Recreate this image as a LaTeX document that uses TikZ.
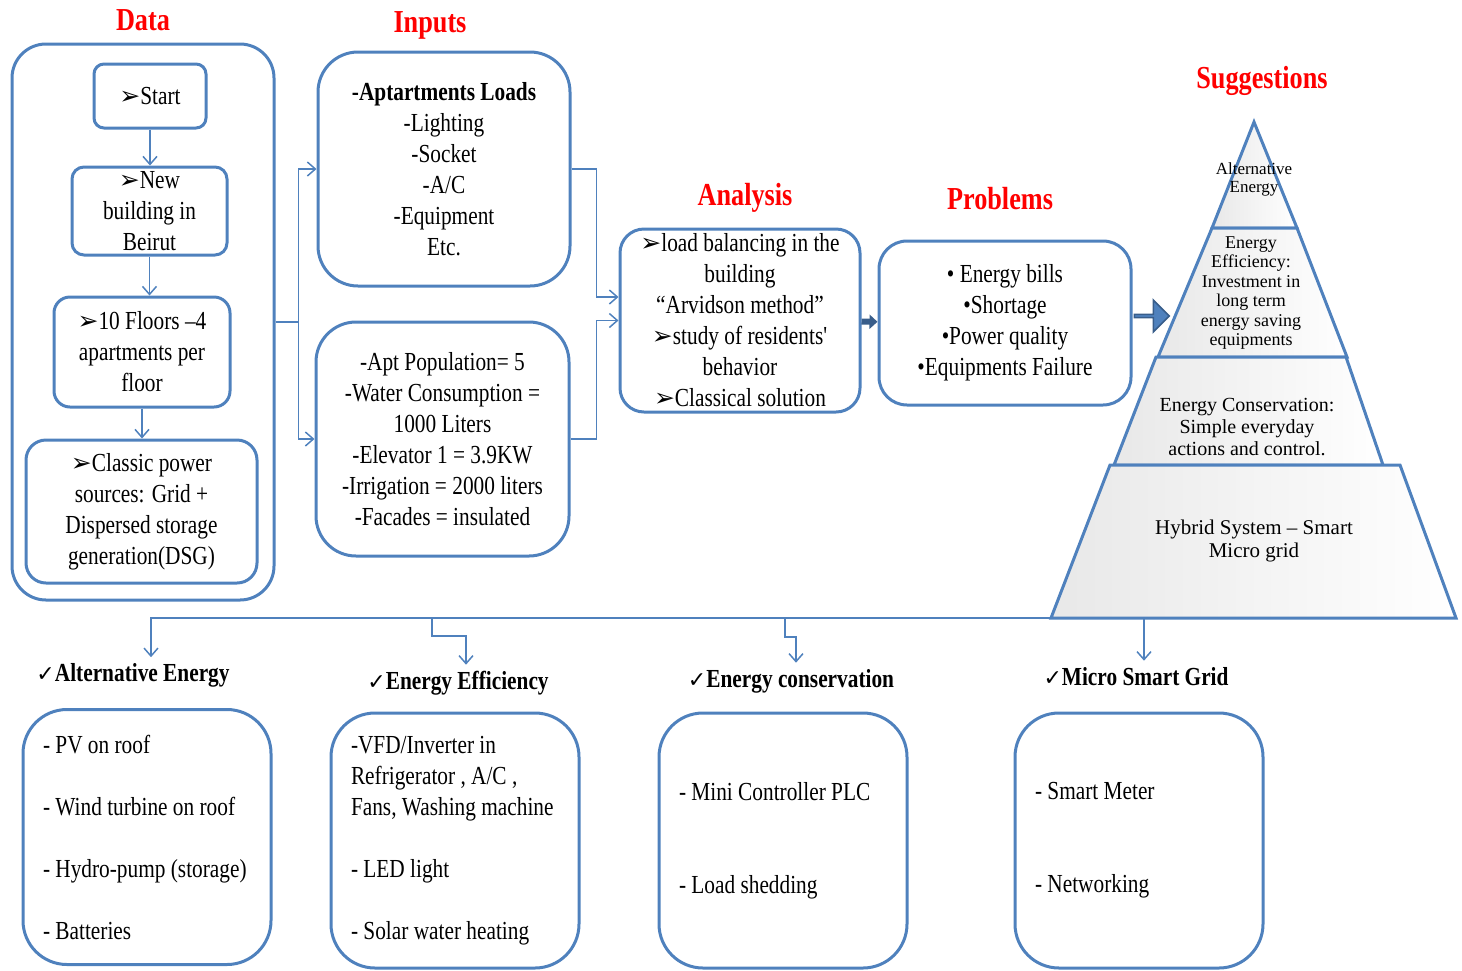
\documentclass[tikz,border=0pt]{standalone}
\usepackage{fontspec}
\setmainfont{Liberation Serif}[FakeStretch=0.82]
\newfontfamily\pyrfont{Liberation Serif}
\newfontfamily\symfont{DejaVu Sans}
\usetikzlibrary{positioning, shapes, arrows, arrows.meta}
\definecolor{boxblue}{RGB}{79,129,189}
\definecolor{darkblue}{RGB}{56,93,138}
\newcommand{\pointer}{{\symfont\fontsize{12.5pt}{12pt}\selectfont ➢}}
\newcommand{\tick}{{\symfont\bfseries\fontsize{11pt}{11pt}\selectfont ✓}}

\begin{document}
\begin{tikzpicture}[
    x=0.5pt, y=-0.5pt,
    block/.style={draw=boxblue, line width=1.5pt, rectangle, rounded corners=8pt, align=center, inner sep=1pt, font=\fontsize{13pt}{15.5pt}\selectfont},
    listbox/.style={block, rounded corners=22pt, align=flush left, minimum width=124pt, minimum height=127.5pt, text width=104pt},
    title/.style={text=red, inner sep=2pt, font=\fontsize{16pt}{18pt}\selectfont\bfseries, text height=11pt, text depth=3pt},
    heading/.style={inner sep=2pt, font=\fontsize{13pt}{15.5pt}\selectfont\bfseries, text height=10pt, text depth=3pt},
    level/.style={draw=boxblue, line width=1.5pt, left color=black!9, right color=white},
    pyrtext/.style={align=center, inner sep=0pt},
    arrow/.style={draw=boxblue, line width=0.75pt, -{Straight Barb[length=4pt, width=7pt]}},
    fatlink/.style={draw=darkblue, line width=3pt, -{Triangle[length=4pt, width=7pt]}},
    bigarrow/.style={single arrow, draw=darkblue, line width=0.75pt, fill=boxblue, minimum height=17.5pt, minimum width=16pt, single arrow head extend=3.5pt, inner sep=0pt}
]
\useasboundingbox (0,0) rectangle (1462,970);

% Data
\node[block, rounded corners=17pt, minimum width=131pt, minimum height=278pt] (dataframe) at (143,322) {};
\node[title, above=1pt of dataframe] (datatitle) {Data};
\node[block, rounded corners=5pt, minimum width=56pt, minimum height=32pt] (start) at (150,96) {\pointer Start};
\node[block, rounded corners=6pt, minimum width=77.5pt, minimum height=44pt] (newbld) at (149.5,211) {\pointer New\\building in\\Beirut};
\node[block, rounded corners=8pt, minimum width=88pt, minimum height=55pt] (floors) at (142,352) {\pointer 10 Floors –4\\apartments per\\floor};
\node[block, rounded corners=10pt, minimum width=115.5pt, minimum height=71.5pt] (classic) at (141.5,511.5) {\pointer Classic power\\sources: Grid +\\Dispersed storage\\generation(DSG)};

% Inputs
\node[block, rounded corners=20pt, minimum width=126pt, minimum height=117pt] (apart) at (444,169) {\textbf{-Aptartments Loads}\\-Lighting\\-Socket\\-A/C\\-Equipment\\Etc.};
\node[title, above=4pt of apart, xshift=-7pt] (inputtitle) {Inputs};
\node[block, rounded corners=20pt, minimum width=126.5pt, minimum height=117pt] (pop) at (442.5,439) {-Apt Population= 5\\-Water Consumption =\\1000 Liters\\-Elevator 1 = 3.9KW\\-Irrigation = 2000 liters\\-Facades = insulated};

% Analysis
\node[block, rounded corners=12pt, inner sep=0pt, minimum width=120pt, minimum height=91.5pt] (analysis) at (740,320.5) {\pointer load balancing in the\\building\\“Arvidson method”\\\pointer study of residents\textquotesingle\\behavior\\\pointer Classical solution};
\node[title, above=6pt of analysis, xshift=2.5pt] (analysistitle) {Analysis};

% Problems
\node[block, rounded corners=14pt, minimum width=126pt, minimum height=82pt] (problems) at (1005,323) {• Energy bills\\•Shortage\\•Power quality\\•Equipments Failure};
\node[title, above=10pt of problems, xshift=-2.5pt] (problemtitle) {Problems};
\node[bigarrow, right=0.5pt of problems, yshift=3.5pt] (push) {};

% Suggestions pyramid
\node[title] (suggesttitle) at (1262,80) {Suggestions};
\coordinate (apex) at (1254,122);
\coordinate (pyrbase) at (1051,618);
\path[level] (apex) -- (1297,228) -- (1212,228) -- cycle;
\path[level] (1212,228) -- (1297,228) -- (1347,357) -- (1158,357) -- cycle;
\path[level] (1156,357) -- (1346,357) -- (1383,465) -- (1114,465) -- cycle;
\path[level] (1110,465) -- (1400,465) -- (1456,618) -- (pyrbase) -- cycle;
\node[pyrtext, font=\pyrfont\fontsize{8.5pt}{9pt}\selectfont] (lvlalt) at (1254,179) {Alternative\\Energy};
\node[pyrtext, font=\pyrfont\fontsize{9pt}{9.7pt}\selectfont] (lvleff) at (1251,293) {Energy\\Efficiency:\\Investment in\\long term\\energy saving\\equipments};
\node[pyrtext, font=\pyrfont\fontsize{10pt}{11pt}\selectfont] (lvlcons) at (1247,427) {Energy Conservation:\\Simple everyday\\actions and control.};
\node[pyrtext, font=\pyrfont\fontsize{10.5pt}{11.5pt}\selectfont] (lvlhyb) at (1254,541) {Hybrid System – Smart\\Micro grid};

% Suggestion lists
\node[listbox] (altbox) at (147,837) {- PV on roof\\[15.5pt]- Wind turbine on roof\\[15.5pt]- Hydro-pump (storage)\\[15.5pt]- Batteries};
\node[listbox] (effbox) at (455,840.5) {-VFD/Inverter in\\Refrigerator , A/C ,\\Fans, Washing machine\\[15.5pt]- LED light\\[15.5pt]- Solar water heating};
\node[listbox] (consbox) at (783,840.5) {- Mini Controller PLC\\[31pt]- Load shedding};
\node[listbox] (gridbox) at (1139,840.5) {- Smart Meter\\[31pt]- Networking};
\node[heading, above=8pt of altbox, xshift=-7pt] (althead) {\tick Alternative Energy};
\node[heading, above=6pt of effbox, xshift=1.5pt] (effhead) {\tick Energy Efficiency};
\node[heading, above=7pt of consbox, xshift=4pt] (conshead) {\tick Energy conservation};
\node[heading, above=8pt of gridbox, xshift=-1.5pt] (gridhead) {\tick Micro Smart Grid};
\coordinate (tapeff) at (432,618);
\coordinate (tapcons) at (785,618);
\coordinate (tapgrid) at (1144,618);

% Arrows
\draw[arrow] (start.south) -- (start.south |- newbld.north);
\draw[arrow] (newbld.south) -- (newbld.south |- floors.north);
\draw[arrow] (floors.south) -- (floors.south |- classic.north);
\draw[arrow] (dataframe.east) -- ++(23,0) |- (apart.west);
\draw[arrow] (dataframe.east) -- ++(23,0) |- (pop.west);
\draw[arrow] (apart.east) -- ++(25,0) |- ([yshift=11.75pt]analysis.west);
\draw[arrow] (pop.east) -- ++(26,0) |- (analysis.west);
\draw[fatlink] (analysis) -- (problems);

% Suggestions to lists
\draw[arrow] (pyrbase) -| ([xshift=9pt]althead.north);
\draw[arrow] (tapeff) -- ++(0,18) -| ([xshift=4pt]effhead.north);
\draw[arrow] (tapcons) -- ++(0,19) -| ([xshift=2.5pt]conshead.north);
\draw[arrow] (tapgrid) -- (tapgrid |- gridhead.north);

\end{tikzpicture}
\end{document}
